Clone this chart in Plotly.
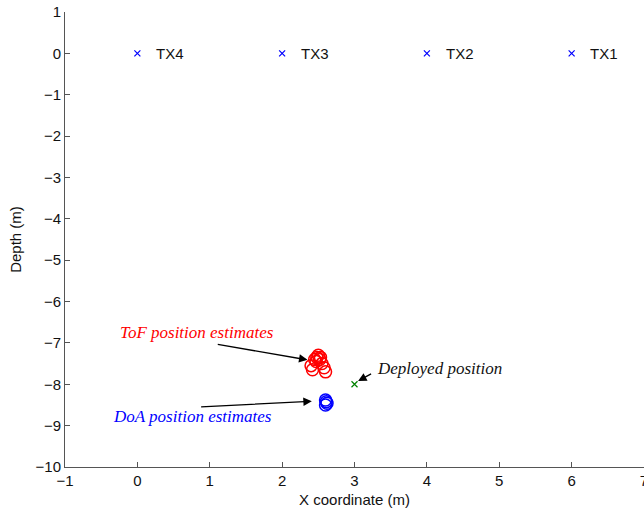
import plotly.graph_objects as go

# ---- data ----
tx_x = [0, 2, 4, 6]
tx_y = [0, 0, 0, 0]
tx_labels = ["TX4", "TX3", "TX2", "TX1"]

tof_x = [2.50, 2.48, 2.52, 2.47, 2.55, 2.40, 2.42, 2.58, 2.60, 2.45, 2.53]
tof_y = [-7.30, -7.35, -7.40, -7.45, -7.50, -7.55, -7.65, -7.60, -7.70, -7.40, -7.35]

doa_x = [2.60, 2.61, 2.62, 2.60]
doa_y = [-8.38, -8.42, -8.46, -8.50]

deployed_x = [3.0]
deployed_y = [-8.0]

x_ticks = [-1, 0, 1, 2, 3, 4, 5, 6, 7]
y_ticks = [1, 0, -1, -2, -3, -4, -5, -6, -7, -8, -9, -10]

label_offset = 0.23

fig = go.Figure()
fig.add_trace(go.Scatter(x=tx_x, y=tx_y, mode="markers",
                         marker=dict(symbol="x-thin-open", size=6, color="#0000ff",
                                     line=dict(width=1.2, color="#0000ff"))))
fig.add_trace(go.Scatter(x=tof_x, y=tof_y, mode="markers",
                         marker=dict(symbol="circle-open", size=12, color="#ff0000",
                                     line=dict(width=1.5, color="#ff0000"))))
fig.add_trace(go.Scatter(x=doa_x, y=doa_y, mode="markers",
                         marker=dict(symbol="circle-open", size=12, color="#0000ff",
                                     line=dict(width=1.5, color="#0000ff"))))
fig.add_trace(go.Scatter(x=deployed_x, y=deployed_y, mode="markers",
                         marker=dict(symbol="x-thin-open", size=6, color="#008000",
                                     line=dict(width=1.2, color="#008000"))))

annotations = []
for x, y, t in zip(tx_x, tx_y, tx_labels):
    annotations.append(dict(x=x + label_offset, y=y, text=t, showarrow=False,
                            xanchor="left", yanchor="middle",
                            font=dict(family="Liberation Sans, Arial", size=15, color="#111")))

serif = dict(family="Liberation Serif, Times New Roman", size=17)
annotations += [
    dict(x=0.82, y=-6.74, text="<i>ToF position estimates</i>", showarrow=False,
         font=dict(**serif, color="#ff0000")),
    dict(x=0.76, y=-8.79, text="<i>DoA position estimates</i>", showarrow=False,
         font=dict(**serif, color="#0000ff")),
    dict(x=3.28, y=-7.63, text="<i>Deployed position</i>", showarrow=False,
         xanchor="left", font=dict(**serif, color="#111")),
    dict(x=2.35, y=-7.41, ax=1.09, ay=-7.03, axref="x", ayref="y", xref="x", yref="y",
         text="", showarrow=True, arrowhead=2, arrowsize=1.3, arrowwidth=1.3, arrowcolor="#000"),
    dict(x=2.41, y=-8.41, ax=0.86, ay=-8.55, axref="x", ayref="y", xref="x", yref="y",
         text="", showarrow=True, arrowhead=2, arrowsize=1.3, arrowwidth=1.3, arrowcolor="#000"),
    dict(x=3.05, y=-7.92, ax=3.25, ay=-7.73, axref="x", ayref="y", xref="x", yref="y",
         text="", showarrow=True, arrowhead=2, arrowsize=1.3, arrowwidth=1.3, arrowcolor="#000"),
]

axis_common = dict(showgrid=False, zeroline=False, showline=True, linecolor="#555",
                   linewidth=1, ticks="inside", ticklen=5, tickcolor="#555",
                   ticklabeloverflow="allow", automargin=False,
                   tickfont=dict(family="Liberation Sans, Arial", size=15, color="#111"),
                   title_font=dict(family="Liberation Sans, Arial", size=15, color="#111"))

fig.update_layout(
    width=644, height=516,
    margin=dict(l=65, r=0, t=12, b=49, autoexpand=False),
    plot_bgcolor="white", paper_bgcolor="white",
    showlegend=False,
    annotations=annotations,
    xaxis=dict(range=[-1, 7], tickvals=x_ticks, ticktext=[str(v).replace("-", "\u2212") for v in x_ticks],
               title=dict(text="X coordinate (m)", standoff=6), **axis_common),
    yaxis=dict(range=[-10, 1], tickvals=y_ticks, ticktext=[str(v).replace("-", "\u2212") for v in y_ticks],
               title=dict(text="Depth (m)", standoff=10), **axis_common),
)

fig.write_html("out.html", config={"displayModeBar": False},
               post_script="document.body.style.margin='0';document.body.style.overflow='hidden';")
